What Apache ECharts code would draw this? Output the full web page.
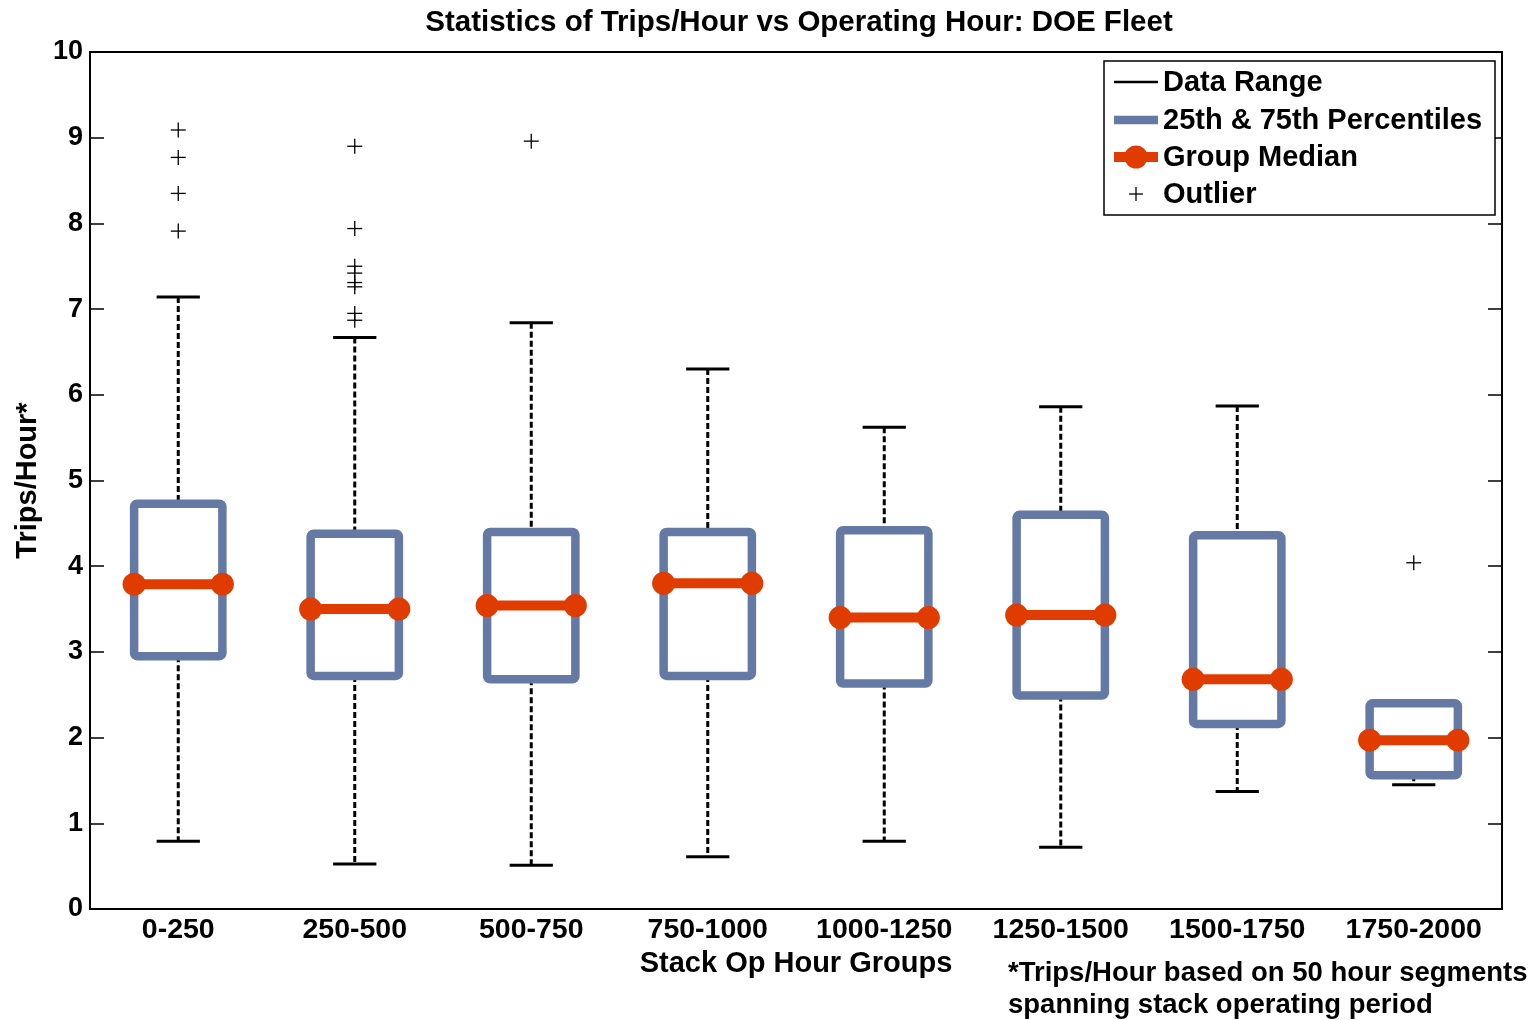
<!DOCTYPE html>
<html>
<head>
<meta charset="utf-8">
<script src="https://cdn.jsdelivr.net/npm/echarts@6/dist/echarts.min.js"></script>
<style>
html,body{margin:0;padding:0;background:#fff;}
#chart{width:1538px;height:1020px;}
</style>
</head>
<body>
<div id="chart"></div>
<script>
var categories = ['0-250','250-500','500-750','750-1000','1000-1250','1250-1500','1500-1750','1750-2000'];
var whiskerLow = [0.79, 0.525, 0.51, 0.61, 0.79, 0.72, 1.37, 1.45];
var q1 =         [2.95, 2.72, 2.68, 2.72, 2.63, 2.49, 2.16, 1.56];
var median =     [3.79, 3.50, 3.54, 3.80, 3.40, 3.43, 2.68, 1.97];
var q3 =         [4.73, 4.38, 4.40, 4.40, 4.42, 4.60, 4.36, 2.40];
var whiskerHigh =[7.14, 6.67, 6.84, 6.30, 5.62, 5.86, 5.87, 2.40];
var outliers = [
  [0, 9.09],[0, 8.77],[0, 8.35],[0, 7.91],
  [1, 8.90],[1, 7.94],[1, 7.50],[1, 7.42],[1, 7.31],[1, 7.26],[1, 6.95],[1, 6.87],
  [2, 8.96],
  [7, 4.04]
];
var yTicks = [0,1,2,3,4,5,6,7,8,9,10];

var FONT = '"Liberation Sans", Arial, sans-serif';
var BLUE = '#6479a4';
var RED = '#e03c00';

var boxData = categories.map(function(c, i){
  return [i, whiskerLow[i], q1[i], median[i], q3[i], whiskerHigh[i]];
});

var chart = echarts.init(document.getElementById('chart'));
chart.setOption({
  backgroundColor: '#fff',
  animation: false,
  title: {
    text: 'Statistics of Trips/Hour vs Operating Hour: DOE Fleet',
    left: 794, top: 3, textAlign: 'center',
    textStyle: {fontFamily: FONT, fontWeight: 'bold', fontSize: 29.5, color: '#000'}
  },
  grid: {left: 90, right: 36, top: 52, bottom: 111, show: true, borderColor: '#000', borderWidth: 2, backgroundColor: 'transparent'},
  xAxis: {
    type: 'category', data: categories, boundaryGap: true,
    axisLine: {lineStyle: {color: '#000', width: 2}},
    axisTick: {show: false},
    axisLabel: {color: '#000', fontFamily: FONT, fontWeight: 'bold', fontSize: 28.5, margin: 7, interval: 0, hideOverlap: false},
    name: 'Stack Op Hour Groups', nameLocation: 'middle', nameGap: 35,
    nameTextStyle: {color: '#000', fontFamily: FONT, fontWeight: 'bold', fontSize: 29, verticalAlign: 'top'}
  },
  yAxis: [{
    type: 'value', min: 0, max: 10, interval: 1,
    axisLine: {show: true, lineStyle: {color: '#000', width: 2}},
    axisTick: {show: true, inside: true, length: 14, lineStyle: {color: '#000', width: 1.5}},
    splitLine: {show: false},
    axisLabel: {color: '#000', fontFamily: FONT, fontWeight: 'bold', fontSize: 27, margin: 7,
      formatter: function(v){ return yTicks.indexOf(v) >= 0 ? String(v) : ''; }},
    name: 'Trips/Hour*', nameLocation: 'middle', nameGap: 47, nameRotate: 90,
    nameTextStyle: {color: '#000', fontFamily: FONT, fontWeight: 'bold', fontSize: 29}
  },{
    type: 'value', min: 0, max: 10, interval: 1, position: 'right',
    axisLine: {show: true, lineStyle: {color: '#000', width: 2}},
    axisTick: {show: true, inside: true, length: 14, lineStyle: {color: '#000', width: 1.5}},
    splitLine: {show: false},
    axisLabel: {show: false}
  }],
  series: [{
    type: 'custom',
    data: boxData,
    encode: {x: 0, y: [1,2,3,4,5]},
    z: 2,
    renderItem: function(params, api){
      var idx = api.value(0);
      var pLow = api.coord([idx, api.value(1)]);
      var pQ1 = api.coord([idx, api.value(2)]);
      var pMed = api.coord([idx, api.value(3)]);
      var pQ3 = api.coord([idx, api.value(4)]);
      var pHigh = api.coord([idx, api.value(5)]);
      var bw = api.size([1, 0])[0] * 0.5;
      var cw = api.size([1, 0])[0] * 0.245;
      var x = pMed[0];
      var children = [];
      var dashStyle = {stroke: '#000', lineWidth: 3, lineDash: [6, 3]};
      if (pHigh[1] < pQ3[1]) {
        children.push({type: 'line', shape: {x1: x, y1: pHigh[1], x2: x, y2: pQ3[1]}, style: dashStyle});
        children.push({type: 'line', shape: {x1: x - cw/2, y1: pHigh[1], x2: x + cw/2, y2: pHigh[1]}, style: {stroke: '#000', lineWidth: 3}});
      }
      children.push({type: 'line', shape: {x1: x, y1: pQ1[1], x2: x, y2: pLow[1]}, style: dashStyle});
      children.push({type: 'line', shape: {x1: x - cw/2, y1: pLow[1], x2: x + cw/2, y2: pLow[1]}, style: {stroke: '#000', lineWidth: 3}});
      children.push({type: 'rect', shape: {x: x - bw/2, y: pQ3[1], width: bw, height: pQ1[1] - pQ3[1], r: 3},
        style: {fill: 'none', stroke: BLUE, lineWidth: 8.5, lineJoin: 'round'}});
      children.push({type: 'line', shape: {x1: x - bw/2, y1: pMed[1], x2: x + bw/2, y2: pMed[1]}, style: {stroke: RED, lineWidth: 10}});
      children.push({type: 'circle', shape: {cx: x - bw/2, cy: pMed[1], r: 11.5}, style: {fill: RED}});
      children.push({type: 'circle', shape: {cx: x + bw/2, cy: pMed[1], r: 11.5}, style: {fill: RED}});
      return {type: 'group', children: children};
    }
  },{
    type: 'custom',
    data: outliers,
    encode: {x: 0, y: 1},
    z: 3,
    renderItem: function(params, api){
      var p = api.coord([api.value(0), api.value(1)]);
      var h = 7.5;
      var st = {stroke: '#000', lineWidth: 1.3};
      return {type: 'group', children: [
        {type: 'line', shape: {x1: p[0] - h, y1: p[1], x2: p[0] + h, y2: p[1]}, style: st},
        {type: 'line', shape: {x1: p[0], y1: p[1] - h, x2: p[0], y2: p[1] + h}, style: st}
      ]};
    }
  }],
  graphic: [
    {type: 'rect', shape: {x: 1104, y: 61, width: 391, height: 154}, style: {fill: '#fff', stroke: '#000', lineWidth: 1.5}, z: 10},
    {type: 'line', shape: {x1: 1114, y1: 82, x2: 1158, y2: 82}, style: {stroke: '#000', lineWidth: 2.5}, z: 11},
    {type: 'text', x: 1163, y: 83, style: {text: 'Data Range', font: 'bold 29px ' + FONT, fill: '#000', verticalAlign: 'middle'}, z: 11},
    {type: 'line', shape: {x1: 1114, y1: 120, x2: 1158, y2: 120}, style: {stroke: BLUE, lineWidth: 8.5}, z: 11},
    {type: 'text', x: 1163, y: 121, style: {text: '25th & 75th Percentiles', font: 'bold 29px ' + FONT, fill: '#000', verticalAlign: 'middle'}, z: 11},
    {type: 'line', shape: {x1: 1114, y1: 157, x2: 1158, y2: 157}, style: {stroke: RED, lineWidth: 10}, z: 11},
    {type: 'circle', shape: {cx: 1136, cy: 157, r: 11.5}, style: {fill: RED}, z: 12},
    {type: 'text', x: 1163, y: 158, style: {text: 'Group Median', font: 'bold 29px ' + FONT, fill: '#000', verticalAlign: 'middle'}, z: 11},
    {type: 'line', shape: {x1: 1129, y1: 194, x2: 1143, y2: 194}, style: {stroke: '#000', lineWidth: 1.3}, z: 11},
    {type: 'line', shape: {x1: 1136, y1: 187, x2: 1136, y2: 201}, style: {stroke: '#000', lineWidth: 1.3}, z: 11},
    {type: 'text', x: 1163, y: 195, style: {text: 'Outlier', font: 'bold 29px ' + FONT, fill: '#000', verticalAlign: 'middle'}, z: 11},
    {type: 'text', x: 1008, y: 957, style: {text: '*Trips/Hour based on 50 hour segments\nspanning stack operating period', font: 'bold 27.5px ' + FONT, lineHeight: 32, fill: '#000'}, z: 11}
  ]
});
</script>
</body>
</html>
